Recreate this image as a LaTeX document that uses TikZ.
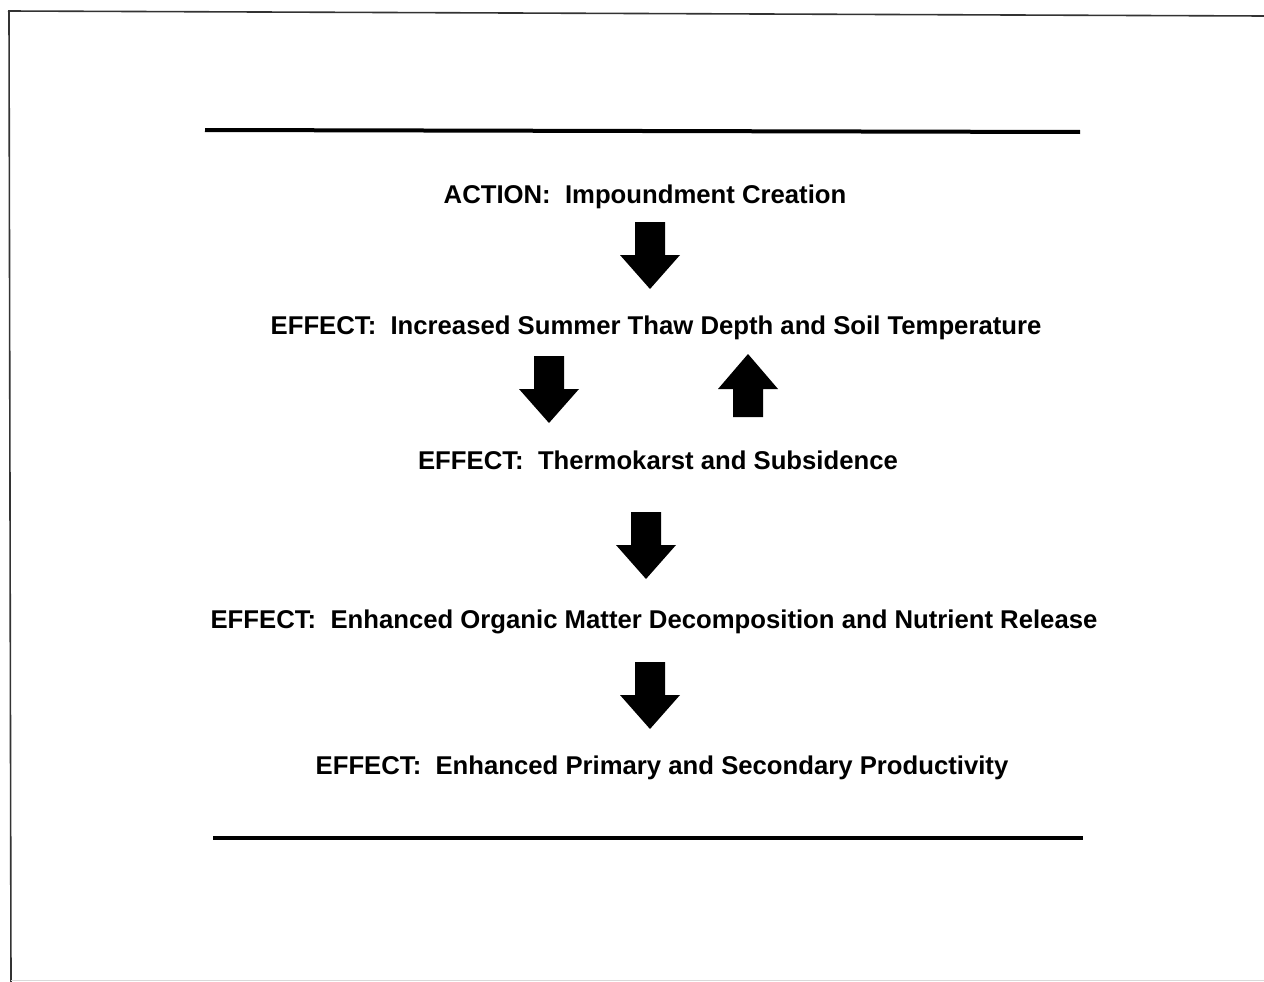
\documentclass[tikz,border=0pt]{standalone}
\usepackage{fontspec}
\setmainfont{Liberation Sans}
\begin{document}
\begin{tikzpicture}[x=1pt,y=-1pt,
  lbl/.style={font=\fontsize{25.7}{30}\selectfont\bfseries, anchor=base, inner sep=0pt},
  rule/.style={line width=4pt},
  frame/.style={line width=1.6pt, black!80},
  darrow/.pic={\fill[black] (-15,0)--(15,0)--(15,33)--(30,33)--(0,67)--(-30,33)--(-15,33)--cycle;},
  uarrow/.pic={\fill[black] (0,0)--(30,35)--(15,35)--(15,63)--(-15,63)--(-15,35)--(-30,35)--cycle;}
]
\useasboundingbox (0,0) rectangle (1264,982);
\fill[white] (0,0) rectangle (1264,982);
% frame
\draw[frame] (8,11) -- (1264,16);
\draw[frame] (9,11) -- (11,982);
\draw[black!15, line width=1pt] (11,980) -- (1264,980);
% rules
\draw[rule] (205,130) -- (1080,132);
\draw[rule] (213,838) -- (1083,838);
% texts
\node[lbl] (t1) at (645,203) {ACTION:\ \ Impoundment Creation};
\node[lbl] (t2) at (656,334) {EFFECT:\ \ Increased Summer Thaw Depth and Soil Temperature};
\node[lbl] (t3) at (658,469) {EFFECT:\ \ Thermokarst and Subsidence};
\node[lbl] (t4) at (654,628) {EFFECT:\ \ Enhanced Organic Matter Decomposition and Nutrient Release};
\node[lbl] (t5) at (662,774) {EFFECT:\ \ Enhanced Primary and Secondary Productivity};
% arrows
\pic at (650,222) {darrow};
\pic at (549,356) {darrow};
\pic at (748,354) {uarrow};
\pic at (646,512) {darrow};
\pic at (650,662) {darrow};
\end{tikzpicture}
\end{document}
